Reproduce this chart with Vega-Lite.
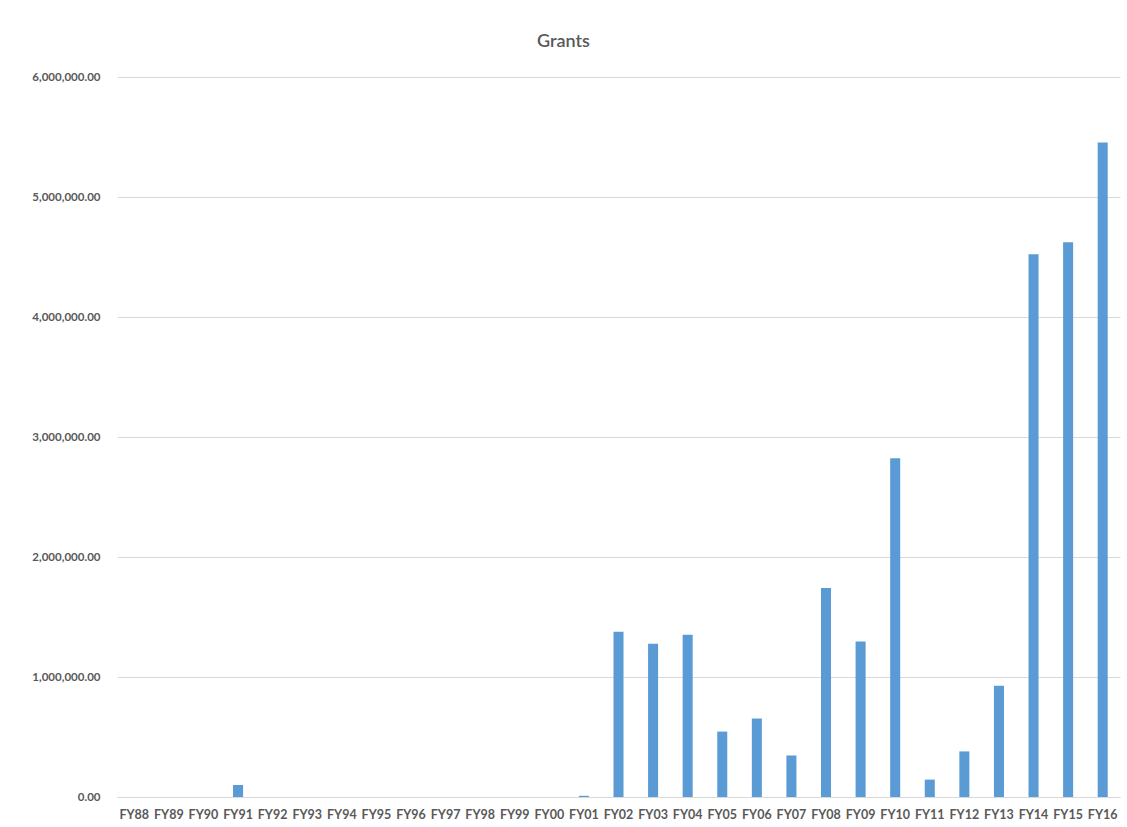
{
  "$schema": "https://vega.github.io/schema/vega-lite/v6.json",
  "autosize": {"type": "none"},
  "width": 1003,
  "height": 720,
  "padding": {"left": 117, "top": 77, "right": 7, "bottom": 30},
  "background": "white",
  "title": {
    "text": "Grants",
    "fontSize": 18,
    "font": "Lato",
    "fontWeight": 600,
    "color": "#595959",
    "anchor": "middle",
    "dx": -55,
    "offset": 20
  },
  "data": {
    "values": [
      {"fy": "FY88", "grants": 0},
      {"fy": "FY89", "grants": 0},
      {"fy": "FY90", "grants": 0},
      {"fy": "FY91", "grants": 100000},
      {"fy": "FY92", "grants": 0},
      {"fy": "FY93", "grants": 0},
      {"fy": "FY94", "grants": 0},
      {"fy": "FY95", "grants": 0},
      {"fy": "FY96", "grants": 0},
      {"fy": "FY97", "grants": 0},
      {"fy": "FY98", "grants": 0},
      {"fy": "FY99", "grants": 0},
      {"fy": "FY00", "grants": 0},
      {"fy": "FY01", "grants": 10000},
      {"fy": "FY02", "grants": 1378000},
      {"fy": "FY03", "grants": 1278000},
      {"fy": "FY04", "grants": 1353000},
      {"fy": "FY05", "grants": 545000},
      {"fy": "FY06", "grants": 654000},
      {"fy": "FY07", "grants": 346000},
      {"fy": "FY08", "grants": 1742000},
      {"fy": "FY09", "grants": 1295000},
      {"fy": "FY10", "grants": 2822000},
      {"fy": "FY11", "grants": 145000},
      {"fy": "FY12", "grants": 380000},
      {"fy": "FY13", "grants": 928000},
      {"fy": "FY14", "grants": 4522000},
      {"fy": "FY15", "grants": 4622000},
      {"fy": "FY16", "grants": 5455000}
    ]
  },
  "mark": {"type": "bar", "color": "#5B9BD5"},
  "encoding": {
    "x": {
      "field": "fy",
      "type": "nominal",
      "sort": null,
      "scale": {"paddingInner": 0.71, "paddingOuter": 0.355},
      "axis": {
        "title": null,
        "labelAngle": 0,
        "ticks": false,
        "domain": true,
        "domainColor": "#d9d9d9",
        "labelFont": "Lato",
        "labelFontSize": 12.5,
        "labelFontWeight": "bold",
        "labelColor": "#595959",
        "labelPadding": 11
      }
    },
    "y": {
      "field": "grants",
      "type": "quantitative",
      "scale": {"domain": [0, 6000000]},
      "axis": {
        "title": null,
        "format": ",.2f",
        "values": [0, 1000000, 2000000, 3000000, 4000000, 5000000, 6000000],
        "ticks": false,
        "domain": false,
        "gridColor": "#d9d9d9",
        "labelFont": "Lato",
        "labelFontSize": 11.5,
        "labelFontWeight": "bold",
        "labelColor": "#595959",
        "labelPadding": 17
      }
    }
  },
  "config": {"view": {"stroke": null}}
}
